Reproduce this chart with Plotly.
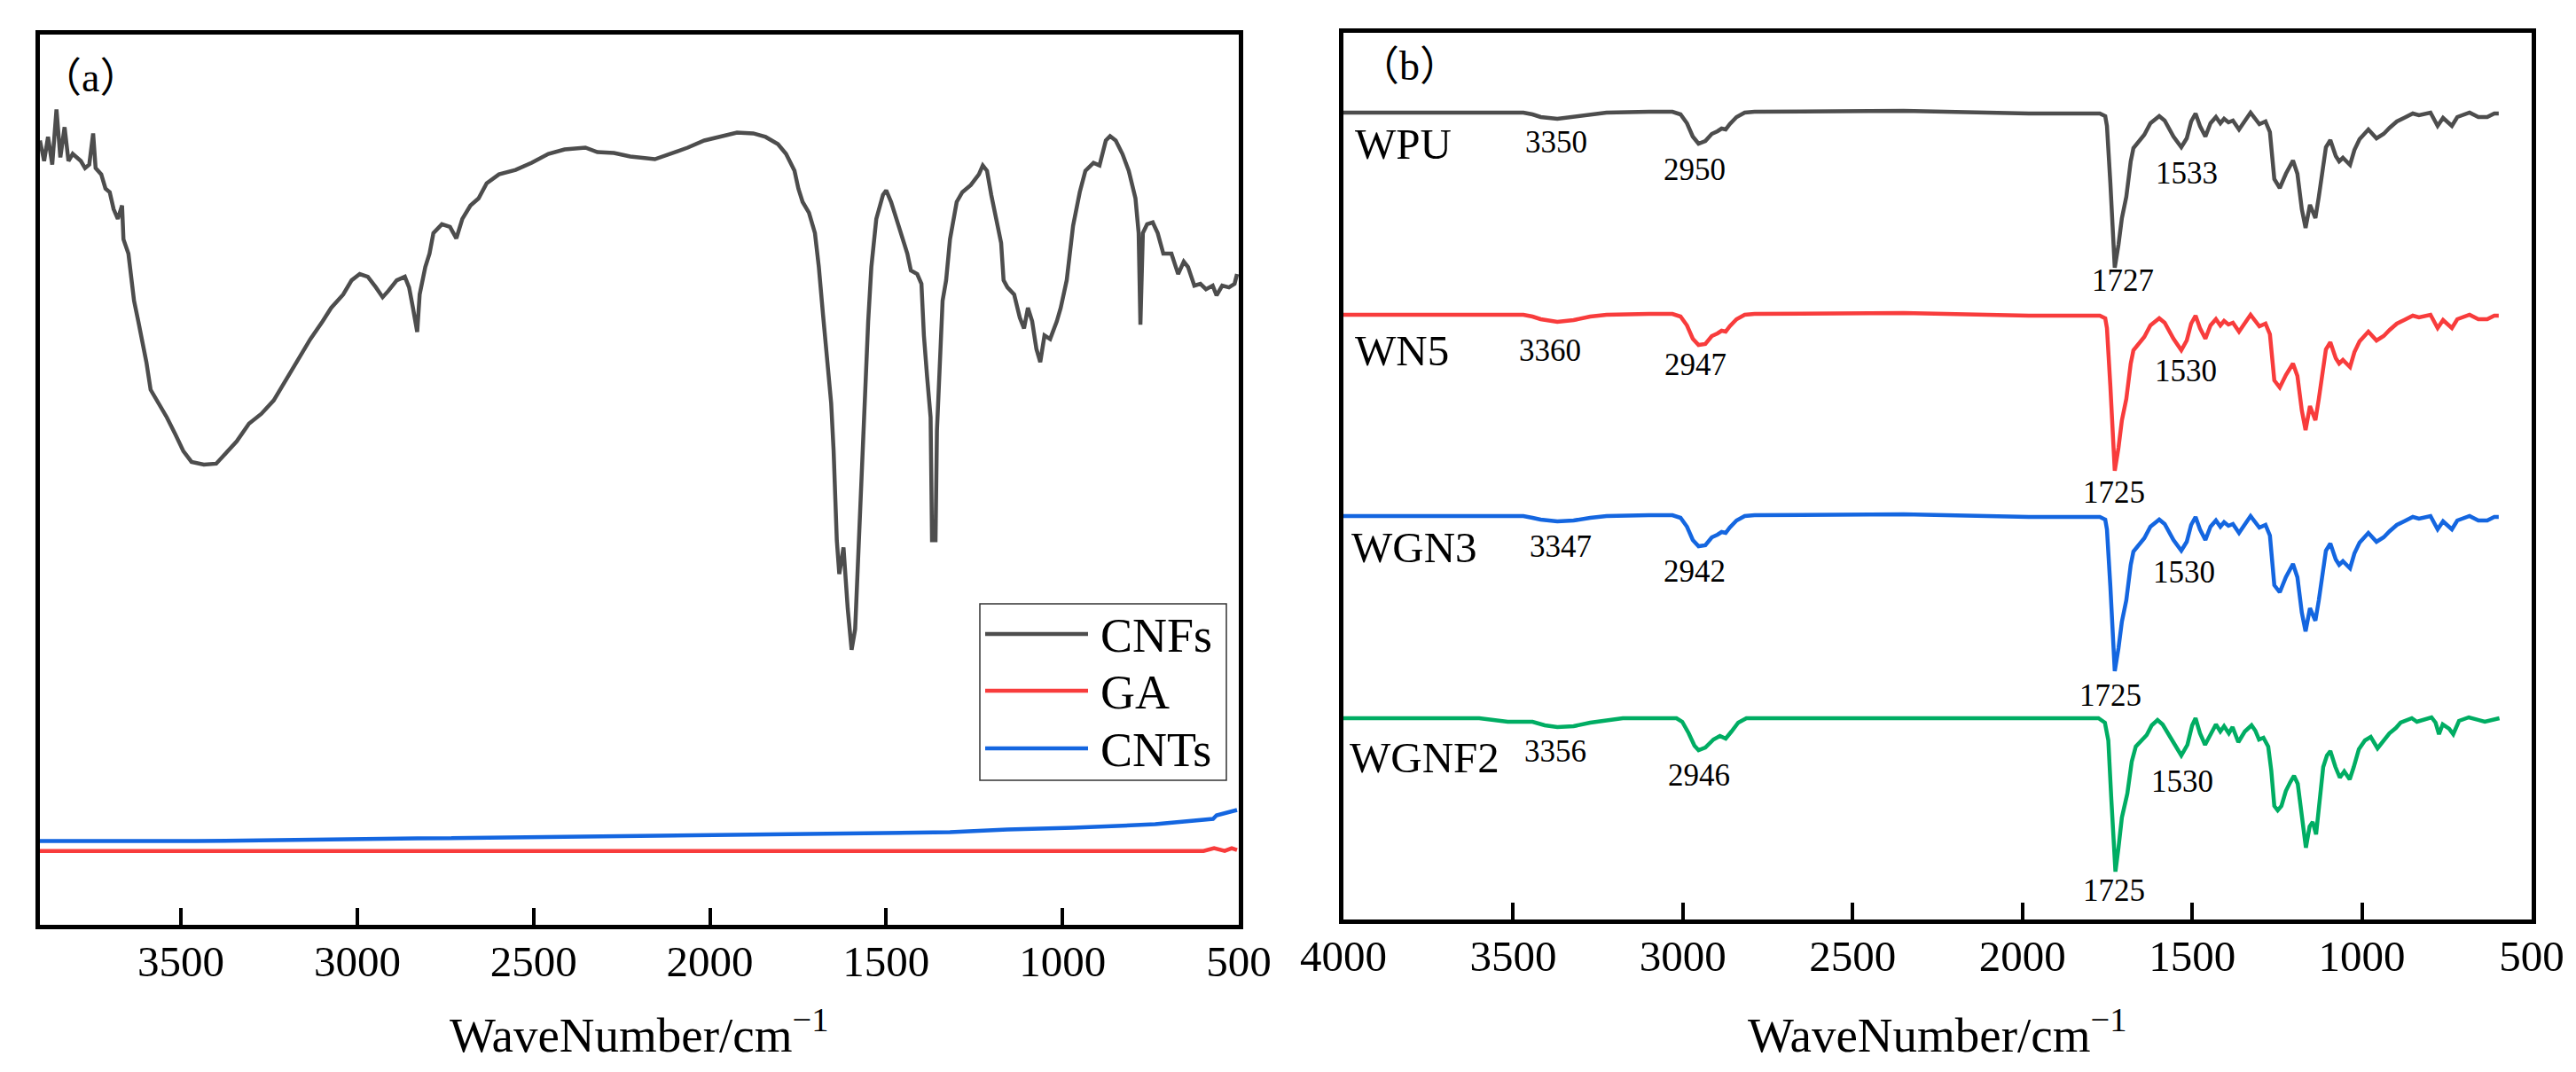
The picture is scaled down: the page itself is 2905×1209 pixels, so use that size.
import plotly.graph_objects as go

W, H = 2905, 1209
SERIF = "Liberation Serif, Times New Roman, serif"
TAG_FONT = "Liberation Serif, Noto Sans CJK SC, serif"

GRAY = "#4d4d4d"
RED = "#f83c3c"
BLUE = "#1466e0"
GREEN = "#00ad63"

# ---- panel (a): raw materials ----
cnf_wn = [3900, 3888, 3877, 3865, 3853, 3842, 3830, 3819, 3807, 3784, 3772, 3760, 3749, 3742,
          3726, 3714, 3702, 3691, 3679, 3667, 3663, 3649, 3640, 3633, 3621, 3609, 3598, 3586,
          3574, 3563, 3540, 3516, 3493, 3470, 3435, 3400, 3377, 3342, 3307, 3272, 3237, 3202,
          3167, 3133, 3098, 3074, 3040, 3016, 2993, 2970, 2947, 2928, 2912, 2888, 2865, 2853,
          2842, 2830, 2823, 2807, 2795, 2784, 2760, 2737, 2719, 2702, 2679, 2656, 2633, 2598,
          2551, 2505, 2458, 2412, 2353, 2319, 2272, 2226, 2156, 2109, 2063, 2016, 1970, 1923,
          1877, 1842, 1807, 1784, 1760, 1749, 1737, 1719, 1702, 1691, 1679, 1667, 1656, 1649,
          1640, 1633, 1621, 1609, 1598, 1588, 1579, 1570, 1560, 1551, 1542, 1528, 1509, 1500,
          1486, 1470, 1453, 1440, 1430, 1412, 1400, 1393, 1384, 1374, 1370, 1360, 1356, 1347,
          1340, 1330, 1319, 1300, 1284, 1260, 1237, 1226, 1214, 1202, 1191, 1174, 1167, 1156,
          1137, 1121, 1109, 1098, 1086, 1074, 1063, 1051, 1035, 1016, 1005, 988, 970, 951,
          935, 912, 895, 877, 865, 849, 830, 812, 793, 784, 779, 772, 760, 744,
          730, 714, 691, 672, 656, 644, 626, 609, 593, 574, 563, 547, 528, 512, 505]
cnf_t = [88.1, 85.8, 88.5, 85.4, 91.6, 86.2, 89.6, 85.8, 86.6, 85.8, 85.0, 85.4, 88.9, 85.0,
         84.3, 82.7, 82.3, 80.4, 79.3, 80.8, 77.0, 75.4, 72.4, 70.1, 67.8, 65.5, 63.2, 60.1,
         59.3, 58.6, 57.0, 55.1, 53.2, 52.0, 51.7, 51.8, 52.8, 54.3, 56.3, 57.4, 58.9, 61.2,
         63.5, 65.8, 67.8, 69.3, 70.8, 72.4, 73.1, 72.8, 71.6, 70.5, 71.2, 72.4, 72.8, 71.6,
         69.3, 66.6, 70.8, 73.9, 75.4, 77.7, 78.7, 78.4, 77.1, 79.3, 80.8, 81.6, 83.3, 84.3,
         84.8, 85.6, 86.6, 87.1, 87.3, 86.8, 86.7, 86.3, 86.0, 86.6, 87.3, 88.1, 88.6, 89.0,
         88.9, 88.5, 87.7, 86.6, 84.7, 82.7, 81.2, 80.0, 77.7, 73.9, 68.5, 63.2, 58.6, 53.2,
         43.2, 39.4, 42.4, 35.5, 30.9, 33.2, 41.7, 50.9, 61.6, 67.8, 73.9, 79.3, 82.0, 82.5,
         81.2, 79.3, 77.0, 75.4, 73.5, 73.1, 72.0, 66.2, 61.6, 57.0, 43.2, 43.2, 55.5, 63.2,
         70.1, 72.4, 77.0, 81.2, 82.3, 83.1, 84.3, 85.3, 84.7, 82.0, 80.0, 76.6, 72.4, 71.6,
         70.8, 68.2, 67.0, 69.3, 67.8, 64.7, 63.2, 66.2, 65.8, 67.8, 69.3, 72.4, 78.5, 82.3,
         84.7, 85.6, 85.3, 88.1, 88.6, 88.1, 86.6, 84.7, 81.6, 77.7, 67.4, 77.7, 78.7, 78.9,
         77.7, 75.4, 75.4, 73.1, 74.5, 73.9, 71.8, 72.0, 71.4, 71.8, 70.7, 71.8, 71.6, 72.0, 73.1]

ga_wn = [3900, 3500, 3000, 2500, 2000, 1600, 1500, 1100, 700, 600, 570, 540, 520, 505]
ga_t = [8.3, 8.3, 8.3, 8.3, 8.3, 8.4, 8.3, 8.3, 8.4, 8.3, 8.6, 8.3, 8.6, 8.4]

cnt_wn = [3900, 3460, 2830, 2133, 1621, 1319, 1156, 970, 737, 586, 573, 563, 528, 505]
cnt_t = [9.4, 9.4, 9.7, 10.0, 10.2, 10.4, 10.7, 10.9, 11.3, 11.8, 11.9, 12.3, 12.7, 12.9]

# ---- panel (b): composites (stacked) ----
wpu_wn = [4000, 3700, 3470, 3443, 3419, 3370, 3322, 3273, 3225, 3100, 3031, 3007, 2988, 2971,
          2954, 2934, 2915, 2898, 2886, 2874, 2862, 2842, 2818, 2789, 2350, 1981, 1772, 1756,
          1751, 1741, 1735, 1728, 1717, 1707, 1694, 1681, 1673, 1654, 1641, 1623, 1597, 1581,
          1555, 1532, 1516, 1503, 1490, 1477, 1461, 1446, 1430, 1417, 1406, 1393, 1380, 1362,
          1328, 1302, 1284, 1271, 1263, 1258, 1242, 1224, 1203, 1190, 1177, 1166, 1153, 1137,
          1127, 1114, 1106, 1093, 1077, 1067, 1056, 1035, 1022, 1007, 981, 957, 936, 918,
          897, 876, 850, 832, 798, 777, 761, 735, 719, 683, 657, 631, 610, 597]
wpu_t = [91.0, 91.0, 91.0, 90.8, 90.5, 90.3, 90.5, 90.8, 91.0, 91.1, 91.1, 90.8, 89.8, 88.3,
         87.5, 87.8, 88.6, 88.9, 89.2, 89.1, 89.7, 90.5, 91.0, 91.1, 91.2, 90.9, 90.9, 90.6,
         89.5, 83.1, 77.5, 73.5, 76.1, 79.1, 81.5, 85.5, 87.0, 87.8, 88.5, 89.8, 90.6, 90.1,
         88.3, 87.1, 88.1, 90.0, 90.9, 89.5, 88.3, 89.8, 90.5, 89.8, 90.3, 89.9, 90.1, 89.1,
         91.0, 89.7, 90.0, 88.8, 85.5, 83.5, 82.5, 84.1, 85.6, 84.1, 80.1, 78.0, 80.6, 79.1,
         81.5, 85.5, 87.1, 87.9, 86.1, 85.5, 85.9, 85.1, 86.8, 88.0, 89.1, 88.1, 88.6, 89.3,
         90.0, 90.4, 90.9, 90.7, 91.0, 89.5, 90.4, 89.5, 90.5, 91.0, 90.5, 90.5, 90.9, 90.9]
wn5_t = [68.2, 68.2, 68.2, 68.0, 67.7, 67.4, 67.6, 68.0, 68.2, 68.3, 68.3, 68.0, 67.0, 65.5,
         64.8, 64.9, 65.8, 66.1, 66.4, 66.3, 66.9, 67.7, 68.2, 68.3, 68.4, 68.1, 68.1, 67.8,
         66.7, 60.2, 54.6, 50.6, 53.2, 56.3, 58.7, 62.7, 64.2, 65.0, 65.7, 67.0, 67.8, 67.3,
         65.5, 64.2, 65.3, 67.2, 68.1, 66.7, 65.5, 67.0, 67.7, 67.0, 67.5, 67.1, 67.3, 66.3,
         68.2, 66.9, 67.2, 66.0, 62.8, 60.8, 60.0, 61.4, 62.7, 61.3, 57.4, 55.2, 57.9, 56.3,
         58.7, 62.7, 64.3, 65.1, 63.3, 62.7, 63.1, 62.3, 64.0, 65.2, 66.3, 65.3, 65.8, 66.5,
         67.2, 67.6, 68.1, 67.9, 68.2, 66.7, 67.6, 66.7, 67.7, 68.2, 67.7, 67.7, 68.1, 68.1]
wgn3_t = [45.5, 45.5, 45.5, 45.3, 45.1, 44.9, 45.0, 45.3, 45.5, 45.6, 45.6, 45.3, 44.3, 42.8,
          42.1, 42.2, 43.1, 43.4, 43.7, 43.6, 44.2, 45.0, 45.5, 45.6, 45.7, 45.4, 45.4, 45.1,
          44.0, 37.6, 32.0, 28.0, 30.6, 33.6, 36.0, 40.0, 41.5, 42.3, 43.0, 44.3, 45.1, 44.6,
          42.8, 41.6, 42.6, 44.5, 45.4, 44.0, 42.8, 44.3, 45.0, 44.3, 44.8, 44.4, 44.6, 43.6,
          45.5, 44.2, 44.5, 43.3, 39.9, 37.7, 36.9, 38.6, 40.1, 38.6, 34.6, 32.5, 35.1, 33.7,
          36.0, 40.0, 41.6, 42.4, 40.6, 40.0, 40.4, 39.6, 41.3, 42.5, 43.6, 42.6, 43.1, 43.8,
          44.5, 44.9, 45.4, 45.2, 45.5, 44.0, 44.9, 44.0, 45.0, 45.5, 45.0, 45.0, 45.4, 45.4]

wgnf2_wn = [4000, 3600, 3516, 3443, 3407, 3370, 3322, 3273, 3177, 3019, 3002, 2983, 2966, 2954,
            2934, 2910, 2891, 2874, 2857, 2837, 2813, 2350, 1981, 1776, 1757, 1747, 1738, 1731,
            1726, 1717, 1707, 1691, 1678, 1666, 1648, 1634, 1619, 1602, 1587, 1562, 1543, 1532,
            1514, 1500, 1490, 1477, 1462, 1448, 1430, 1417, 1406, 1392, 1381, 1364, 1345, 1325,
            1314, 1303, 1290, 1276, 1267, 1258, 1248, 1237, 1224, 1211, 1200, 1189, 1177, 1165,
            1154, 1145, 1135, 1126, 1114, 1103, 1093, 1078, 1065, 1052, 1036, 1024, 1009, 991,
            974, 954, 938, 919, 900, 886, 853, 838, 795, 783, 773, 762, 743, 731, 714, 685, 638, 595]
wgnf2_t = [22.7, 22.7, 22.3, 22.3, 21.9, 21.7, 21.8, 22.2, 22.7, 22.7, 22.3, 21.0, 19.6, 19.1,
           19.4, 20.3, 20.7, 20.4, 21.2, 22.2, 22.7, 22.7, 22.7, 22.7, 22.2, 20.2, 13.5, 8.1,
           5.4, 8.1, 11.5, 14.2, 17.8, 19.5, 20.3, 20.8, 21.9, 22.5, 22.0, 20.5, 19.3, 18.5,
           19.7, 21.9, 22.7, 21.0, 19.7, 20.8, 22.0, 21.2, 21.8, 21.0, 21.7, 20.0, 21.2, 21.9,
           21.3, 20.3, 20.5, 19.5, 16.8, 12.8, 12.3, 12.8, 14.5, 15.5, 16.2, 15.3, 11.5, 8.1,
           10.5, 11.0, 9.6, 12.8, 17.2, 18.5, 19.0, 17.2, 16.0, 16.7, 15.8, 17.2, 19.2, 20.2,
           20.6, 19.3, 20.0, 21.0, 21.6, 22.2, 22.7, 22.3, 22.8, 22.2, 20.9, 22.0, 21.5, 20.9,
           22.4, 22.8, 22.3, 22.7]

# series labels on the left of panel (b)
name_b = ["WPU", "WN5", "WGN3", "WGNF2"]
name_x = [3972, 3972, 3982, 3988]
name_y = [87.5, 64.2, 42.0, 18.3]

# peak wavenumber labels in panel (b)
peak_text = ["3350", "2950", "1727", "1533",
             "3360", "2947", "1725", "1530",
             "3347", "2942", "1725", "1530",
             "3356", "2946", "1725", "1530"]
peak_x = [3373, 2966, 1704, 1516,
          3391, 2963, 1730, 1519,
          3360, 2966, 1741, 1524,
          3376, 2953, 1730, 1529]
peak_y = [87.7, 84.6, 72.1, 84.2,
          64.2, 62.6, 48.2, 61.9,
          42.1, 39.3, 25.3, 39.2,
          19.0, 16.3, 3.3, 15.6]

ticks_a = [3500, 3000, 2500, 2000, 1500, 1000, 500]
ticks_b = [4000, 3500, 3000, 2500, 2000, 1500, 1000, 500]


def px(x):
    return x / W


def py(y):
    return 1 - y / H


fig = go.Figure()

for wn, t, col in [(cnf_wn, cnf_t, GRAY), (ga_wn, ga_t, RED), (cnt_wn, cnt_t, BLUE)]:
    fig.add_trace(go.Scatter(x=wn, y=t, mode="lines", line=dict(color=col, width=4.5),
                             xaxis="x", yaxis="y", showlegend=False))

for wn, t, col in [(wpu_wn, wpu_t, GRAY), (wpu_wn, wn5_t, RED),
                   (wpu_wn, wgn3_t, BLUE), (wgnf2_wn, wgnf2_t, GREEN)]:
    fig.add_trace(go.Scatter(x=wn, y=t, mode="lines", line=dict(color=col, width=4.5),
                             xaxis="x2", yaxis="y2", showlegend=False))

xcommon = dict(showline=True, linewidth=5, linecolor="black", mirror=True,
               ticks="inside", ticklen=19, tickwidth=4, tickcolor="black",
               ticklabelstandoff=-6,
               tickfont=dict(family=SERIF, size=49, color="black"),
               showgrid=False, zeroline=False, automargin=False)
ycommon = dict(showline=True, linewidth=5, linecolor="black", mirror=True,
               ticks="", showticklabels=False, showgrid=False, zeroline=False,
               range=[0, 100], automargin=False)

fig.update_layout(
    width=W, height=H,
    margin=dict(l=0, r=0, t=0, b=0),
    paper_bgcolor="white", plot_bgcolor="white",
    xaxis=dict(xcommon, domain=[px(37), px(1389)], range=[3900, 500], tickvals=ticks_a),
    yaxis=dict(ycommon, domain=[py(1035), py(31)]),
    xaxis2=dict(xcommon, domain=[px(1507), px(2847)], range=[4000, 500], tickvals=ticks_b,
                anchor="y2"),
    yaxis2=dict(ycommon, domain=[py(1029), py(29)], anchor="x2"),
)

ann = []
# axis titles
for cx in [713, 2177]:
    ann.append(dict(x=px(cx), y=py(1155), xref="paper", yref="paper", showarrow=False,
                    text="WaveNumber/cm<sup>−1</sup>", xanchor="center", yanchor="middle",
                    font=dict(family=SERIF, size=55, color="black")))
# panel tags
ann.append(dict(x=px(36), y=py(80), xref="paper", yref="paper", showarrow=False,
                text="（a）", xanchor="left", yanchor="middle",
                font=dict(family=TAG_FONT, size=46, color="black")))
ann.append(dict(x=px(1522), y=py(67), xref="paper", yref="paper", showarrow=False,
                text="（b）", xanchor="left", yanchor="middle",
                font=dict(family=TAG_FONT, size=46, color="black")))
# sample names
for n, x, y in zip(name_b, name_x, name_y):
    ann.append(dict(x=x, y=y, xref="x2", yref="y2", showarrow=False, text=n,
                    xanchor="left", yanchor="middle",
                    font=dict(family=SERIF, size=49, color="black")))
# peak positions
for s, x, y in zip(peak_text, peak_x, peak_y):
    ann.append(dict(x=x, y=y, xref="x2", yref="y2", showarrow=False, text=s,
                    xanchor="center", yanchor="middle",
                    font=dict(family=SERIF, size=35, color="black")))

# legend of panel (a), drawn by hand to get the long line samples
legend_names = ["CNFs", "GA", "CNTs"]
legend_cols = [GRAY, RED, BLUE]
legend_rows = [707, 771, 836]
shapes = [dict(type="rect", xref="paper", yref="paper",
               x0=px(1097), x1=px(1375), y0=py(872), y1=py(673),
               line=dict(color="#333333", width=1.5), fillcolor="white", layer="above")]
for n, c, r in zip(legend_names, legend_cols, legend_rows):
    shapes.append(dict(type="line", xref="paper", yref="paper",
                       x0=px(1103), x1=px(1219), y0=py(r), y1=py(r),
                       line=dict(color=c, width=4.5), layer="above"))
    ann.append(dict(x=px(1231), y=py(r + 2), xref="paper", yref="paper", showarrow=False,
                    text=n, xanchor="left", yanchor="middle",
                    font=dict(family=SERIF, size=54, color="black")))

fig.update_layout(annotations=ann, shapes=shapes)

fig.write_html("out.html")
